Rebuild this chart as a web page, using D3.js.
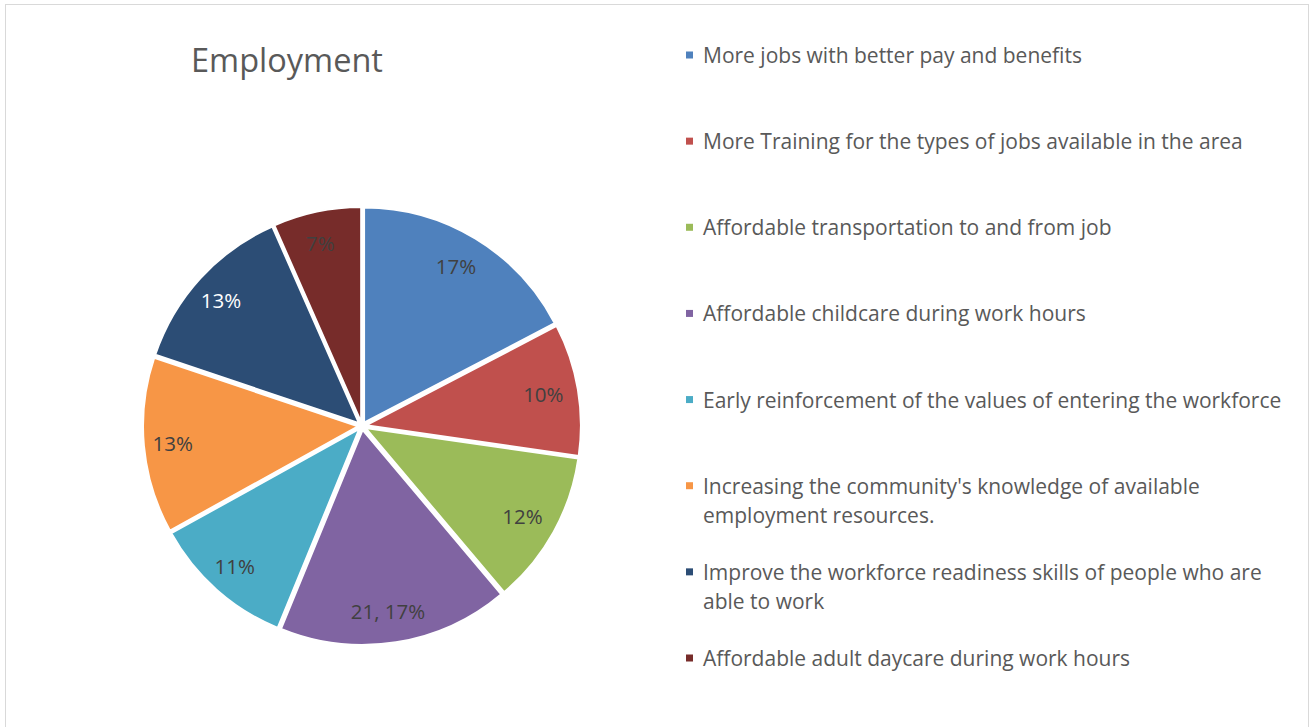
<!DOCTYPE html>
<html>
<head>
<meta charset="utf-8">
<script src="https://cdn.jsdelivr.net/npm/d3@7"></script>
<style>
  html, body { margin: 0; padding: 0; background: #fff; }
  svg { display: block; }
</style>
</head>
<body>
<svg id="chart" width="1310" height="727"></svg>
<script>
const title = "Employment";
const categories = [
  "More jobs with better pay and benefits",
  "More Training for the types of jobs available in the area",
  "Affordable transportation to and from job",
  "Affordable childcare during work hours",
  "Early reinforcement of the values of entering the workforce",
  "Increasing the community's knowledge of available employment resources.",
  "Improve the workforce readiness skills of people who are able to work",
  "Affordable adult daycare during work hours"
];
const legendLines = [
  ["More jobs with better pay and benefits"],
  ["More Training for the types of jobs available in the area"],
  ["Affordable transportation to and from job"],
  ["Affordable childcare during work hours"],
  ["Early reinforcement of the values of entering the workforce"],
  ["Increasing the community's knowledge of available", "employment resources."],
  ["Improve the workforce readiness skills of people who are", "able to work"],
  ["Affordable adult daycare during work hours"]
];
const values = [21, 12, 14, 21, 13, 16, 16, 8];
const dataLabels = ["17%", "10%", "12%", "21, 17%", "11%", "13%", "13%", "7%"];
const colors = ["#4F81BD", "#C0504D", "#9BBB59", "#8064A2", "#4BACC6", "#F79646", "#2C4D75", "#772C2A"];
const labelColors = ["#404040", "#404040", "#404040", "#404040", "#404040", "#404040", "#ffffff", "#404040"];

const svg = d3.select("#chart");
const font = "'Open Sans', 'Noto Sans', sans-serif";

// chart border
svg.append("rect")
  .attr("x", 5.5).attr("y", 4.5)
  .attr("width", 1303).attr("height", 740)
  .attr("fill", "#fff").attr("stroke", "#d9d9d9").attr("stroke-width", 1);

// title
svg.append("text")
  .attr("x", 287).attr("y", 72)
  .attr("text-anchor", "middle")
  .attr("font-family", font)
  .attr("font-size", 32.5)
  .attr("fill", "#595959")
  .text(title);

// pie
const cx = 362, cy = 426, r = 215, explode = 4, labelR = 183;
const pie = d3.pie().sort(null).value(d => d)(values);
const arc = d3.arc().innerRadius(0).outerRadius(r);
const g = svg.append("g").attr("transform", `translate(${cx},${cy})`);

const slices = g.selectAll("g.slice").data(pie).enter().append("g")
  .attr("class", "slice")
  .attr("transform", d => {
    const a = (d.startAngle + d.endAngle) / 2;
    return `translate(${Math.sin(a) * explode},${-Math.cos(a) * explode})`;
  });

slices.append("path")
  .attr("d", arc)
  .attr("fill", (d, i) => colors[i])
  .attr("stroke", "#fff")
  .attr("stroke-width", 2)
  .attr("stroke-linejoin", "round");

slices.append("text")
  .attr("x", d => Math.sin((d.startAngle + d.endAngle) / 2) * labelR - 3)
  .attr("y", d => -Math.cos((d.startAngle + d.endAngle) / 2) * labelR)
  .attr("dy", "0.38em")
  .attr("text-anchor", "middle")
  .attr("font-family", font)
  .attr("font-size", 20.5)
  .attr("fill", (d, i) => labelColors[i])
  .text((d, i) => dataLabels[i]);

// legend
const legendY = d3.scalePoint().domain(d3.range(categories.length)).range([55, 658]);
const lg = svg.append("g");
categories.forEach((c, i) => {
  const y = legendY(i);
  lg.append("rect")
    .attr("x", 686).attr("y", y - 3.5)
    .attr("width", 7).attr("height", 7)
    .attr("fill", colors[i]);
  const t = lg.append("text")
    .attr("font-family", font)
    .attr("font-size", 21)
    .attr("fill", "#595959");
  legendLines[i].forEach((line, j) => {
    t.append("tspan")
      .attr("x", 703)
      .attr("y", y + 8 + j * 29)
      .text(line);
  });
});
</script>
</body>
</html>
